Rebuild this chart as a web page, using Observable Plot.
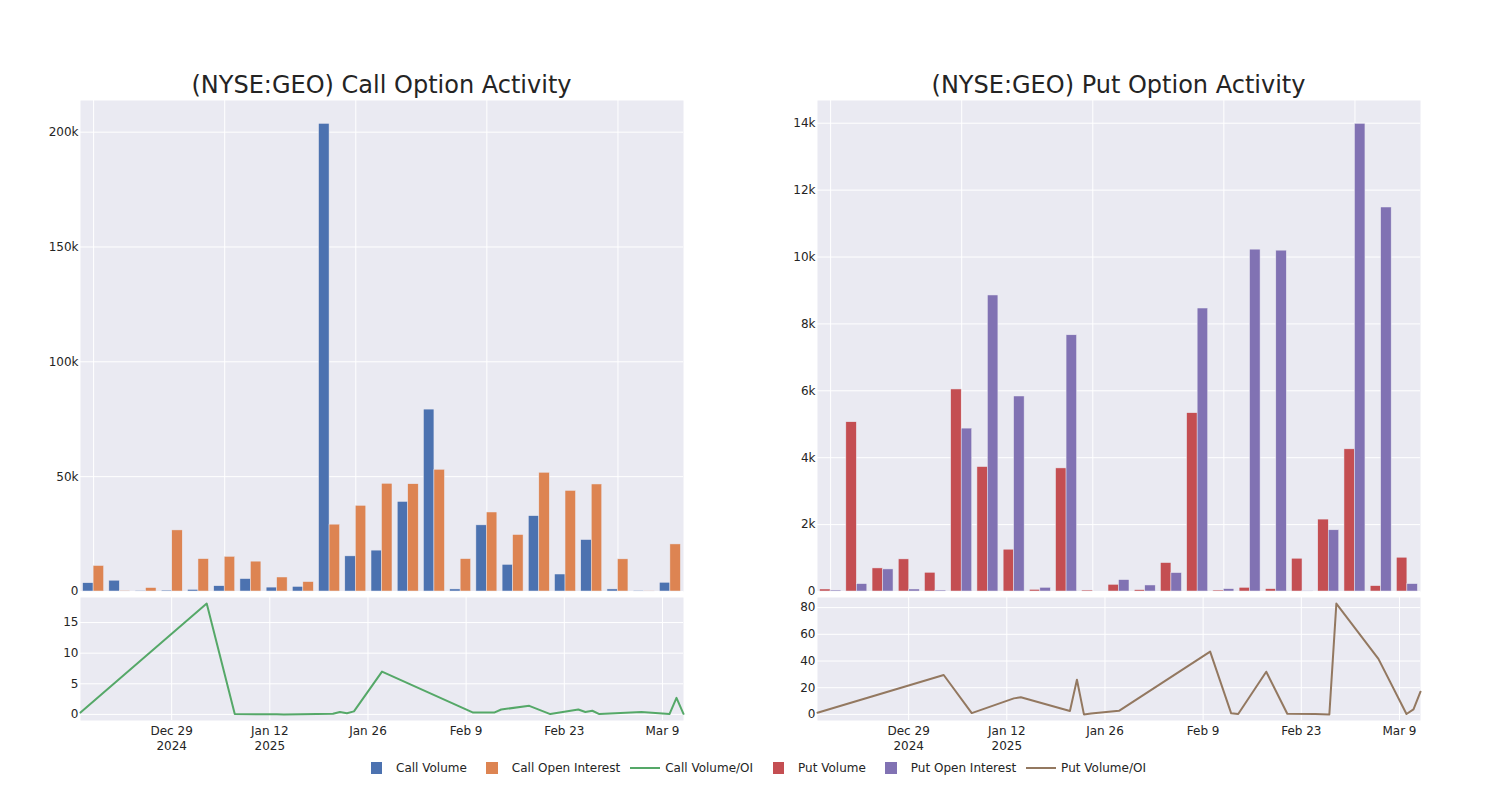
<!DOCTYPE html>
<html>
<head>
<meta charset="utf-8">
<script src="https://cdn.jsdelivr.net/npm/d3@7"></script>
<script src="https://cdn.jsdelivr.net/npm/@observablehq/plot@0.6"></script>
<style>
  html, body { margin: 0; padding: 0; background: #fff; }
  body { font-family: "DejaVu Sans", sans-serif; color: rgb(36,36,36); }
  #root { position: relative; width: 1500px; height: 800px; overflow: hidden; }
  .title { position: absolute; top: 73px; font-size: 24px; line-height: 24px; white-space: nowrap; transform: translateX(-50%); color: rgb(36,36,36); }
  .panel { position: absolute; }
  .panel svg { overflow: visible; }
  #legend { position: absolute; top: 761px; left: 356px; display: flex; font-size: 12px; line-height: 14px; white-space: nowrap; }
  .item { position: relative; padding-left: 40px; margin-right: 5px; }
  .sym { position: absolute; }
  .sym.sq { left: 14.5px; top: 1px; width: 11.5px; height: 11.5px; }
  .sym.ln { left: 5px; top: 6px; width: 30px; height: 2px; }
</style>
</head>
<body>
<div id="root">
  <div class="title" style="left:381.5px">(NYSE:GEO) Call Option Activity</div>
  <div class="title" style="left:1118.5px">(NYSE:GEO) Put Option Activity</div>
  <div class="panel" id="callBars" style="left:0px;top:90px"></div>
  <div class="panel" id="callLine" style="left:0px;top:587px"></div>
  <div class="panel" id="putBars" style="left:737px;top:90px"></div>
  <div class="panel" id="putLine" style="left:737px;top:587px"></div>
  <div id="legend"></div>
</div>
<script>
// ---- data ----
const sessions = ["2024-12-16","2025-01-03","2025-01-07","2025-01-13","2025-01-14","2025-01-21","2025-01-22","2025-01-23","2025-01-24","2025-01-28","2025-02-10","2025-02-13","2025-02-14","2025-02-18","2025-02-21","2025-02-25","2025-02-26","2025-02-27","2025-02-28","2025-03-06","2025-03-10","2025-03-11","2025-03-12"];
const callVolume = [3600,4700,300,400,700,2300,5400,1700,2000,203600,15300,17800,39000,79200,900,28800,11600,32800,7400,22400,900,300,3800];
const callOpenInterest = [11100,300,1500,26600,14100,15100,13000,6100,4100,29100,37300,46900,46700,53000,14100,34400,24600,51700,43800,46600,14000,150,20500];
const callVolumeOI = [0.3,18.1,0.05,0.02,0.0,0.1,0.4,0.2,0.5,7.0,0.3,0.3,0.8,1.4,0.05,0.8,0.4,0.6,0.05,0.4,0.05,2.7,0.1];
const putVolume = [60,5060,690,960,560,6040,3720,1250,50,3680,30,200,40,850,5330,30,110,70,980,2150,4250,160,1010];
const putOpenInterest = [30,220,660,60,30,4870,8850,5830,110,7660,0,340,180,550,8460,70,10220,10190,10,1830,13980,11480,220];
const putVolumeOI = [1.2,29.5,1.0,12.0,12.8,2.5,26,0,0.6,2.7,47,0.8,0.3,32,0.5,0.3,0.2,0,83,41.6,0.3,3.8,17];

const callBarTicks = [0,50000,100000,150000,200000];
const putBarTicks = [0,2000,4000,6000,8000,10000,12000,14000];
const callLineTicks = [0,5,10,15];
const putLineTicks = [0,20,40,60,80];
const dateTicks = ["2024-12-29","2025-01-12","2025-01-26","2025-02-09","2025-02-23","2025-03-09"];
const dateTickLabels = ["Dec 29\n2024","Jan 12\n2025","Jan 26","Feb 9","Feb 23","Mar 9"];

const seriesNames = ["Call Volume","Call Open Interest","Call Volume/OI","Put Volume","Put Open Interest","Put Volume/OI"];
const seriesColors = ["#4c72b0","#dd8452","#55a868","#c44e52","#8172b3","#937860"];
const seriesKinds = ["bar","bar","line","bar","bar","line"];

// ---- drawing ----
const BG = "#eaeaf2";
const TXT = "rgb(36,36,36)";
const W = 700, ML = 80, MR = 17;
const gridSessions = sessions.filter((_, i) => i % 5 === 0);
const kfmt = d => d === 0 ? "0" : (d / 1000) + "k";
const baseStyle = {background: "transparent", overflow: "visible", fontFamily: "DejaVu Sans, sans-serif", fontSize: "12px", color: TXT};

function barChart(volume, oi, c1, c2, ticks) {
  const rows = sessions.map((s, i) => ({session: s, volume: volume[i], oi: oi[i]}));
  const step = (W - ML - MR) / sessions.length;
  const half = step * 0.8 / 2;
  const ymax = d3.max([...volume, ...oi]) * 1.05;
  return Plot.plot({
    width: W, height: 505, marginLeft: ML, marginRight: MR, marginTop: 10, marginBottom: 4,
    style: baseStyle,
    x: {type: "band", domain: sessions, paddingInner: 0.2, paddingOuter: 0.1, round: false, axis: null},
    y: {domain: [0, ymax], axis: null},
    marks: [
      Plot.frame({fill: BG, stroke: "none"}),
      Plot.gridY(ticks, {stroke: "white", strokeOpacity: 1, strokeWidth: 1}),
      Plot.gridX(gridSessions, {stroke: "white", strokeOpacity: 1, strokeWidth: 1}),
      Plot.barY(rows, {x: "session", y: "volume", fill: c1, insetRight: half, stroke: BG, strokeWidth: 0.5}),
      Plot.barY(rows, {x: "session", y: "oi", fill: c2, insetLeft: half, stroke: BG, strokeWidth: 0.5}),
      Plot.axisY(ticks, {tickSize: 0, tickPadding: 2, tickFormat: kfmt, fontSize: 12, fill: TXT, label: null})
    ]
  });
}

function lineChart(values, color, ticks) {
  const rows = sessions.map((s, i) => ({date: new Date(s), v: values[i]}));
  const [lo, hi] = d3.extent(values);
  const pad = (hi - lo) * 0.055;
  const tDates = dateTicks.map(d => new Date(d));
  const fmt = d => dateTickLabels[tDates.findIndex(t => +t === +d)];
  return Plot.plot({
    width: W, height: 180, marginLeft: ML, marginRight: MR, marginTop: 10, marginBottom: 47,
    style: baseStyle,
    x: {type: "utc", domain: d3.extent(rows, d => d.date), axis: null},
    y: {domain: [lo - pad, hi + pad], axis: null},
    marks: [
      Plot.frame({fill: BG, stroke: "none"}),
      Plot.gridY(ticks, {stroke: "white", strokeOpacity: 1, strokeWidth: 1}),
      Plot.gridX(tDates, {stroke: "white", strokeOpacity: 1, strokeWidth: 1}),
      Plot.line(rows, {x: "date", y: "v", stroke: color, strokeWidth: 2}),
      Plot.axisY(ticks, {tickSize: 0, tickPadding: 2, fontSize: 12, fill: TXT, label: null}),
      Plot.axisX(tDates, {tickSize: 0, tickPadding: 3, tickFormat: fmt, fontSize: 12, fill: TXT, lineHeight: 1.3, label: null})
    ]
  });
}

document.getElementById("callBars").append(barChart(callVolume, callOpenInterest, seriesColors[0], seriesColors[1], callBarTicks));
document.getElementById("callLine").append(lineChart(callVolumeOI, seriesColors[2], callLineTicks));
document.getElementById("putBars").append(barChart(putVolume, putOpenInterest, seriesColors[3], seriesColors[4], putBarTicks));
document.getElementById("putLine").append(lineChart(putVolumeOI, seriesColors[5], putLineTicks));

const legend = document.getElementById("legend");
seriesNames.forEach((name, i) => {
  const item = document.createElement("div");
  item.className = "item";
  const sym = document.createElement("span");
  sym.className = "sym " + (seriesKinds[i] === "bar" ? "sq" : "ln");
  sym.style.background = seriesColors[i];
  item.append(sym, document.createTextNode(name));
  legend.append(item);
});
</script>
</body>
</html>
